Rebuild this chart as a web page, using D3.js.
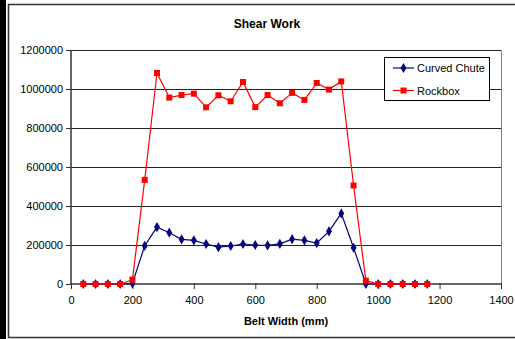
<!DOCTYPE html>
<html><head><meta charset="utf-8">
<script src="https://cdn.jsdelivr.net/npm/d3@7"></script>
<style>body{margin:0;background:#fff}svg{display:block}text{font-family:"Liberation Sans",Arial,sans-serif}</style>
</head><body>
<script>
const beltWidth = [40,80,120,160,200,240,280,320,360,400,440,480,520,560,600,640,680,720,760,800,840,880,920,960,1000,1040,1080,1120,1160];
const curvedChute = [0,0,0,0,3000,196000,292000,263000,229000,224000,205000,189000,195000,205000,200000,198000,206000,230000,224000,210000,270000,362000,186000,0,0,0,0,0,0];
const rockbox = [0,0,0,0,22000,534000,1082000,956000,969000,976000,906000,968000,937000,1036000,907000,969000,927000,980000,944000,1031000,997000,1039000,505000,17000,0,0,0,0,0];
const yTicks = [0,200000,400000,600000,800000,1000000,1200000];
const xTicks = [0,200,400,600,800,1000,1200,1400];
const seriesNames = ["Curved Chute","Rockbox"];
const seriesColors = ["#000080","#ff0000"];

const W=515,H=339;
const svg=d3.select("body").append("svg").attr("width",W).attr("height",H);
svg.append("rect").attr("x",0).attr("y",0).attr("width",W).attr("height",H).attr("fill","#fff");
svg.append("rect").attr("x",0).attr("y",0).attr("width",6).attr("height",H).attr("fill","#000");
// outer chart border
svg.append("path").attr("d","M516,4.5H8.5V337.5H516").attr("fill","none").attr("stroke","#333").attr("stroke-width",1.6);

const L=71,R=501,T=50,B=284;
const x=d3.scaleLinear().domain([0,1400]).range([L,R]);
const y=d3.scaleLinear().domain([0,1200000]).range([B,T]);

// plot border (gray)
svg.append("path").attr("d",`M${L},${T+0.5}H${R+0.5}V${B}`).attr("fill","none").attr("stroke","#808080").attr("stroke-width",1);

// gridlines
svg.append("g").selectAll("line").data(yTicks.filter(d=>d>0)).join("line")
  .attr("x1",L).attr("x2",R).attr("y1",d=>Math.round(y(d))+0.5).attr("y2",d=>Math.round(y(d))+0.5)
  .attr("stroke","#222").attr("stroke-width",1);

// axes
const yAxis=d3.axisLeft(y).tickValues(yTicks).tickSize(5).tickPadding(3).tickFormat(d3.format("d"));
const gy=svg.append("g").attr("transform",`translate(${L},0)`).call(yAxis);
const xAxis=d3.axisBottom(x).tickValues(xTicks).tickSize(5).tickPadding(7).tickFormat(d3.format("d"));
const gx=svg.append("g").attr("transform",`translate(0,${B})`).call(xAxis);
[gx,gy].forEach(g=>{
  g.select(".domain").attr("stroke","#333").attr("stroke-width",1.5);
  g.selectAll(".tick line").attr("stroke","#333");
  g.selectAll("text").attr("font-size",11).attr("fill","#000").attr("font-family","'Liberation Sans',Arial,sans-serif");
});
gx.select(".domain").attr("d",`M${L},0H${R}`);
gy.select(".domain").attr("d",`M0,${T}V${B}`);
gx.selectAll(".tick line").attr("y1",-1).attr("y2",5);
gy.selectAll(".tick line").attr("x1",1).attr("x2",-5);

// titles
svg.append("text").attr("x",267).attr("y",28).attr("text-anchor","middle").attr("font-size",12).attr("font-weight","bold").text("Shear Work");
svg.append("text").attr("x",(L+R)/2).attr("y",325).attr("text-anchor","middle").attr("font-size",11).attr("font-weight","bold").text("Belt Width (mm)");

// series
const data=[curvedChute,rockbox];
const line=d3.line().x((d,i)=>x(beltWidth[i])).y(d=>y(d));
data.forEach((vals,si)=>{
  svg.append("path").datum(vals).attr("d",line).attr("fill","none").attr("stroke",seriesColors[si]).attr("stroke-width",1.2);
});
const diamond=d3.symbol().type(d3.symbolDiamond).size(30);
const square=d3.symbol().type(d3.symbolSquare).size(36);
data.forEach((vals,si)=>{
  svg.append("g").selectAll("path").data(vals).join("path")
    .attr("d",si===0?diamond:square)
    .attr("transform",(d,i)=>`translate(${x(beltWidth[i])},${y(d)})`)
    .attr("fill",seriesColors[si]);
});

// legend
const lg=svg.append("g");
lg.append("rect").attr("x",384.5).attr("y",57.5).attr("width",105).attr("height",43).attr("fill","#fff").attr("stroke","#000").attr("stroke-width",1);
seriesNames.forEach((n,i)=>{
  const yy=68+i*22.5;
  lg.append("line").attr("x1",393).attr("x2",414).attr("y1",yy).attr("y2",yy).attr("stroke",seriesColors[i]).attr("stroke-width",1.2);
  lg.append("path").attr("d",i===0?diamond:square).attr("transform",`translate(403.5,${yy})`).attr("fill",seriesColors[i]);
  lg.append("text").attr("x",417).attr("y",yy+4).attr("font-size",11).text(n);
});
</script>
</body></html>
